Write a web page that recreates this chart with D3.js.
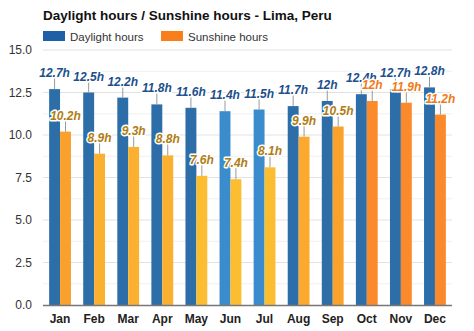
<!DOCTYPE html>
<html>
<head>
<meta charset="utf-8">
<script src="https://cdn.jsdelivr.net/npm/d3@7"></script>
<style>
  html, body { margin: 0; padding: 0; background: #fff; }
  svg { display: block; font-family: Arial, "Liberation Sans", sans-serif; }
</style>
</head>
<body>
<svg id="chart" width="474" height="331"></svg>
<script>
// Monthly daylight and sunshine hours for Lima, Peru
const months = ["Jan","Feb","Mar","Apr","May","Jun","Jul","Aug","Sep","Oct","Nov","Dec"];
const daylight = [12.7, 12.5, 12.2, 11.8, 11.6, 11.4, 11.5, 11.7, 12, 12.4, 12.7, 12.8];
const sunshine = [10.2, 8.9, 9.3, 8.8, 7.6, 7.4, 8.1, 9.9, 10.5, 12, 11.9, 11.2];
const yTicks = [0, 2.5, 5, 7.5, 10, 12.5, 15];
const yMinor = [1.25, 3.75, 6.25, 8.75, 11.25, 13.75];

// per-month shades: daylight is lighter in mid-winter, sunshine warms toward summer
const daylightFill = ["#2e6ea8","#2e6ea8","#2e6ea8","#2e6ea8","#2e6ea8","#3a8ccc","#3a8ccc","#2e6ea8","#2e6ea8","#2e6ea8","#2e6ea8","#2e6ea8"];
const sunshineFill = ["#f9a12c","#fbb030","#fbb030","#fbb030","#fcbe30","#fcbe30","#fcbe30","#fbaa2e","#fba22c","#fb8a2c","#fb8a2c","#fb8a2c"];
const daylightLabel = "#1d4f8c";
const sunshineLabel = ["#b07c12","#b07c12","#b07c12","#b07c12","#b07c12","#b07c12","#b07c12","#b07c12","#b07c12","#f07a18","#f07a18","#f07a18"];

const svg = d3.select("#chart");
const margin = { left: 43, right: 22, top: 50, bottom: 26 };
const W = 474, H = 331;

const x = d3.scaleBand().domain(months).range([margin.left, W - margin.right]).paddingInner(0.36).paddingOuter(0.18);
const y = d3.scaleLinear().domain([0, 15]).range([H - margin.bottom, margin.top]);
const xs = d3.scaleBand().domain(["d", "s"]).range([0, x.bandwidth()]);

// grid
svg.append("g").selectAll("line").data(yMinor).join("line")
  .attr("x1", margin.left).attr("x2", W - margin.right)
  .attr("y1", d => y(d)).attr("y2", d => y(d))
  .attr("stroke", "#f0f0f0").attr("stroke-width", 1);
svg.append("g").selectAll("line").data(yTicks.filter(d => d > 0)).join("line")
  .attr("x1", margin.left).attr("x2", W - margin.right)
  .attr("y1", d => y(d)).attr("y2", d => y(d))
  .attr("stroke", "#e2e2e2").attr("stroke-width", 1);

// y axis labels
const yAxis = svg.append("g").attr("transform", `translate(${margin.left},0)`)
  .call(d3.axisLeft(y).tickValues(yTicks).tickFormat(d3.format(".1f")).tickSize(0).tickPadding(11));
yAxis.select(".domain").remove();
yAxis.selectAll("text").attr("font-size", 12).attr("fill", "#333").attr("font-family", "Arial, 'Liberation Sans', sans-serif");

// bars
const groups = svg.append("g").selectAll("g").data(months).join("g")
  .attr("transform", m => `translate(${x(m)},0)`);

groups.append("rect")
  .attr("x", xs("d")).attr("width", xs.bandwidth())
  .attr("y", (m, i) => y(daylight[i])).attr("height", (m, i) => y(0) - y(daylight[i]))
  .attr("fill", (m, i) => daylightFill[i]);
groups.append("rect")
  .attr("x", xs("s")).attr("width", xs.bandwidth())
  .attr("y", (m, i) => y(sunshine[i])).attr("height", (m, i) => y(0) - y(sunshine[i]))
  .attr("fill", (m, i) => sunshineFill[i]);

// leader lines
groups.append("line")
  .attr("x1", xs("d") + xs.bandwidth() / 2).attr("x2", xs("d") + xs.bandwidth() / 2)
  .attr("y1", (m, i) => y(daylight[i])).attr("y2", (m, i) => y(daylight[i]) - 11)
  .attr("stroke", "#999").attr("stroke-width", 1);
groups.append("line")
  .attr("x1", xs("s") + xs.bandwidth() / 2).attr("x2", xs("s") + xs.bandwidth() / 2)
  .attr("y1", (m, i) => y(sunshine[i])).attr("y2", (m, i) => y(sunshine[i]) - 11)
  .attr("stroke", "#999").attr("stroke-width", 1);

// value labels with white halo
function valueLabel(sel, key, vals, color) {
  sel.append("text")
    .attr("x", xs(key) + xs.bandwidth() / 2)
    .attr("y", (m, i) => y(vals[i]) - 12)
    .attr("text-anchor", "middle")
    .attr("font-size", 12).attr("font-weight", "bold").attr("font-style", "italic")
    .attr("stroke", "#fff").attr("stroke-width", 3).attr("stroke-linejoin", "round")
    .attr("paint-order", "stroke")
    .attr("fill", color)
    .text((m, i) => vals[i] + "h");
}
valueLabel(groups, "d", daylight, () => daylightLabel);
valueLabel(groups, "s", sunshine, (m, i) => sunshineLabel[i]);

// x axis
svg.append("line")
  .attr("x1", margin.left).attr("x2", W - margin.right)
  .attr("y1", y(0) + 0.5).attr("y2", y(0) + 0.5)
  .attr("stroke", "#777").attr("stroke-width", 1.5);
svg.append("g").selectAll("text").data(months).join("text")
  .attr("x", m => x(m) + x.bandwidth() / 2)
  .attr("y", y(0) + 18)
  .attr("text-anchor", "middle")
  .attr("font-size", 12).attr("font-weight", "bold").attr("fill", "#222")
  .text(m => m);

// title
svg.append("text").attr("x", 43).attr("y", 20)
  .attr("font-size", 13.5).attr("font-weight", "bold").attr("fill", "#111")
  .text("Daylight hours / Sunshine hours - Lima, Peru");

// legend
const legend = [
  { name: "Daylight hours", color: "#1e5fa8", x: 43 },
  { name: "Sunshine hours", color: "#f97e1c", x: 161 }
];
const lg = svg.append("g").selectAll("g").data(legend).join("g")
  .attr("transform", d => `translate(${d.x},31)`);
lg.append("rect").attr("width", 22).attr("height", 10).attr("fill", d => d.color);
lg.append("text").attr("x", 27).attr("y", 9.5)
  .attr("font-size", 11.5).attr("fill", "#333").text(d => d.name);
</script>
</body>
</html>
